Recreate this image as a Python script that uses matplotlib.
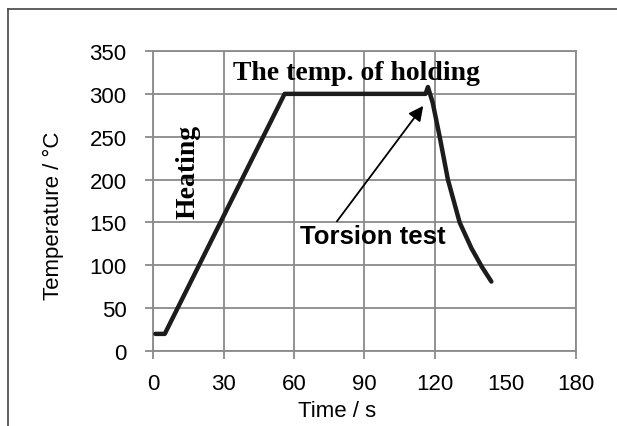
import matplotlib.pyplot as plt
from matplotlib.lines import Line2D

plt.rcParams['font.family'] = ['Liberation Sans', 'DejaVu Sans']

# Temperature history of the torsion specimen
time_s = [1, 5, 56, 116, 117, 119, 122, 125.5, 130.5, 135.5, 140, 144]
temp_c = [20, 20, 300, 300, 308, 290, 250, 200, 150, 120, 98, 81]

x_major = [0, 30, 60, 90, 120, 180]
x_labels = ['0', '30', '60', '90', '120', '180']
y_ticks = [0, 50, 100, 150, 200, 250, 300, 350]

grid_col = '#8a8a8a'

fig = plt.figure(figsize=(6.17, 4.27), dpi=100)
ax = fig.add_axes([0.248, 0.1756, 0.6855, 0.7026])

ax.plot(time_s, temp_c, color='#1c1c1c', lw=3.2, solid_joinstyle='round',
        solid_capstyle='round', zorder=3)

ax.set_xlim(0, 180)
ax.set_ylim(0, 350)
ax.set_xticks(x_major)
ax.set_xticklabels(x_labels)
# 150 has a label but no grid line or tick
ax.set_xticks([150], minor=True)
ax.set_xticklabels(['150'], minor=True)
ax.set_yticks(y_ticks)

ax.grid(True, which='major', color=grid_col, lw=1.3)
ax.set_axisbelow(True)
for s in ax.spines.values():
    s.set_color(grid_col)
    s.set_linewidth(1.3)

ax.tick_params(axis='x', which='major', length=6, width=1.3, color=grid_col,
               labelsize=16, pad=9.5)
ax.tick_params(axis='x', which='minor', length=0, labelsize=16, pad=15.5)
ax.tick_params(axis='y', length=6, width=1.3, color=grid_col,
               labelsize=16, pad=13)

ax.set_xlabel('Time / s', fontsize=16, ha='center', va='center')
ax.xaxis.set_label_coords(0.435, -0.197)
ax.set_ylabel('Temperature / °C', fontsize=16, ha='center', va='center')
ax.yaxis.set_label_coords(-0.236, 0.453)

ax.text(86.6, 317, 'The temp. of holding', family='Liberation Serif',
        fontweight='bold', fontsize=20, ha='center', va='baseline')
ax.text(15, 210, 'Heating', family='Liberation Serif', fontweight='bold',
        fontsize=20, rotation=90, ha='center', va='center')
ax.annotate('Torsion test', xy=(115, 286), xytext=(62.5, 134),
            fontsize=18.5, fontweight='bold', ha='left', va='center',
            arrowprops=dict(arrowstyle='-|>', color='black', lw=1.3,
                            mutation_scale=22, shrinkA=0, shrinkB=0,
                            relpos=(0.24, 1.0)))

# frame lines along the top and left of the figure
fig.add_artist(Line2D([8 / 617, 1.0], [1 - 10 / 427, 1 - 10 / 427],
                      color='#444444', lw=1.2))
fig.add_artist(Line2D([8 / 617, 8 / 617], [0.0, 1 - 10 / 427],
                      color='#444444', lw=1.2))

fig.savefig('out.png', dpi=100)
